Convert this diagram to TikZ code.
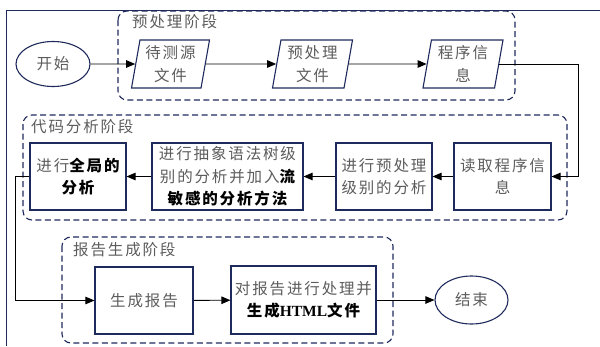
\documentclass[tikz,border=0pt]{standalone}
\usepackage{fontspec}
\setmainfont{Noto Sans CJK SC}[LetterSpace=12]
\newfontfamily\latinb{Liberation Serif}[BoldFont={Liberation Serif Bold}]
\usetikzlibrary{arrows.meta,shapes.geometric}
\definecolor{navy}{HTML}{1F2A5C}
\definecolor{txt}{HTML}{5C5C5C}
\newcommand{\bk}[1]{{\color{black}\bfseries #1}}
\tikzset{
  base/.style={font=\fontsize{15.5}{22.5}\selectfont, text=txt, align=center, inner sep=0pt},
  term/.style={base, ellipse, draw=navy, line width=1.1pt},
  para/.style={base, trapezium, trapezium left angle=77, trapezium right angle=103,
    trapezium stretches body, draw=navy, line width=1.1pt, minimum height=48pt},
  proc/.style={base, rectangle, draw=navy, line width=1.1pt, minimum height=67pt},
  grp/.style={draw=navy, line width=1.1pt, dash pattern=on 6pt off 3.5pt, rounded corners=9pt},
  glabel/.style={base, anchor=west},
  arr/.style={draw=black, line width=0.9pt, -{Triangle[length=9pt,width=7.5pt]}},
}
\begin{document}
\begin{tikzpicture}[x=1pt,y=-1pt]
\useasboundingbox (0,0) rectangle (600,346);
\draw[navy, line width=1pt] (6,346) -- (6,10) -- (600,10);
% groups
\draw[grp] (118,11) rectangle (515,100);
\node[glabel] (g1) at (132,22) {预处理阶段};
\draw[grp] (23,115) rectangle (567,220);
\node[glabel] (g2) at (31,127) {代码分析阶段};
\draw[grp] (62,237) rectangle (393,343);
\node[glabel] (g3) at (73,250) {报告生成阶段};
% nodes
\node[term, minimum width=74pt, minimum height=45pt] (start) at (53,64) {开始};
\node[para, minimum width=78pt] (src) at (170.5,64) {待测源\\文件};
\node[para, minimum width=80pt] (pre) at (312.5,64) {预处理\\文件};
\node[para, minimum width=80pt] (info) at (463,64) {程序信\\息};
\node[proc, minimum width=96pt] (b1) at (78,176.5) {进行\bk{全局的}\\\bk{分析}};
\node[proc, minimum width=151pt] (b2) at (227.5,176.5) {进行抽象语法树级\\别的分析并加入\bk{流}\\\bk{敏感的分析方法}};
\node[proc, minimum width=96pt] (b3) at (384,176.5) {进行预处理\\级别的分析};
\node[proc, minimum width=97pt] (b4) at (502.5,176.5) {读取程序信\\息};
\node[proc, minimum width=98pt] (b5) at (144,300.5) {生成报告};
\node[proc, minimum width=145pt, minimum height=68pt] (b6) at (303.5,300) {对报告进行处理并\\\bk{生成{\latinb HTML}文件}};
\node[term, minimum width=73pt, minimum height=48pt] (end) at (471.5,300) {结束};
% helper coordinates
\coordinate (r) at (578,0);
\coordinate (l) at (15,0);
% connectors
\draw[arr] (start) -- (src);
\draw[arr] (src) -- (pre);
\draw[arr] (pre) -- (info);
\draw[arr] (info.east) -- (info.east -| r) |- (b4.east);
\draw[arr] (b4) -- (b3);
\draw[arr] (b3) -- (b2);
\draw[arr] (b2) -- (b1);
\draw[arr] (b1.west) -- (b1.west -| l) |- (b5.west);
\draw[arr] (b5) -- (b6);
\draw[arr] (b6) -- (end);
\end{tikzpicture}
\end{document}
